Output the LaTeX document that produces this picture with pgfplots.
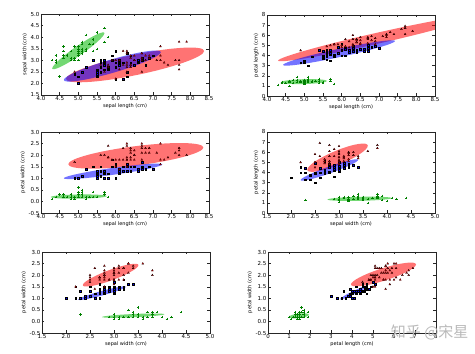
\documentclass[border=0pt]{standalone}
\usepackage{fontspec}
\setmainfont{DejaVu Sans}
\newfontfamily\cjk{Noto Sans CJK SC}
\usepackage{pgfplots}
\usepackage{pgfplotstable}
\usetikzlibrary{calc}
\pgfplotsset{compat=1.18}

\pgfplotstableread{
sl sw pl pw
5.1 3.5 1.4 0.2
4.9 3.0 1.4 0.2
4.7 3.2 1.3 0.2
4.6 3.1 1.5 0.2
5.0 3.6 1.4 0.2
5.4 3.9 1.7 0.4
4.6 3.4 1.4 0.3
5.0 3.4 1.5 0.2
4.4 2.9 1.4 0.2
4.9 3.1 1.5 0.1
5.4 3.7 1.5 0.2
4.8 3.4 1.6 0.2
4.8 3.0 1.4 0.1
4.3 3.0 1.1 0.1
5.8 4.0 1.2 0.2
5.7 4.4 1.5 0.4
5.4 3.9 1.3 0.4
5.1 3.5 1.4 0.3
5.7 3.8 1.7 0.3
5.1 3.8 1.5 0.3
5.4 3.4 1.7 0.2
5.1 3.7 1.5 0.4
4.6 3.6 1.0 0.2
5.1 3.3 1.7 0.5
4.8 3.4 1.9 0.2
5.0 3.0 1.6 0.2
5.0 3.4 1.6 0.4
5.2 3.5 1.5 0.2
5.2 3.4 1.4 0.2
4.7 3.2 1.6 0.2
4.8 3.1 1.6 0.2
5.4 3.4 1.5 0.4
5.2 4.1 1.5 0.1
5.5 4.2 1.4 0.2
4.9 3.1 1.5 0.2
5.0 3.2 1.2 0.2
5.5 3.5 1.3 0.2
4.9 3.6 1.4 0.1
4.4 3.0 1.3 0.2
5.1 3.4 1.5 0.2
5.0 3.5 1.3 0.3
4.5 2.3 1.3 0.3
4.4 3.2 1.3 0.2
5.0 3.5 1.6 0.6
5.1 3.8 1.9 0.4
4.8 3.0 1.4 0.3
5.1 3.8 1.6 0.2
4.6 3.2 1.4 0.2
5.3 3.7 1.5 0.2
5.0 3.3 1.4 0.2
}\setosa

\pgfplotstableread{
sl sw pl pw
7.0 3.2 4.7 1.4
6.4 3.2 4.5 1.5
6.9 3.1 4.9 1.5
5.5 2.3 4.0 1.3
6.5 2.8 4.6 1.5
5.7 2.8 4.5 1.3
6.3 3.3 4.7 1.6
4.9 2.4 3.3 1.0
6.6 2.9 4.6 1.3
5.2 2.7 3.9 1.4
5.0 2.0 3.5 1.0
5.9 3.0 4.2 1.5
6.0 2.2 4.0 1.0
6.1 2.9 4.7 1.4
5.6 2.9 3.6 1.3
6.7 3.1 4.4 1.4
5.6 3.0 4.5 1.5
5.8 2.7 4.1 1.0
6.2 2.2 4.5 1.5
5.6 2.5 3.9 1.1
5.9 3.2 4.8 1.8
6.1 2.8 4.0 1.3
6.3 2.5 4.9 1.5
6.1 2.8 4.7 1.2
6.4 2.9 4.3 1.3
6.6 3.0 4.4 1.4
6.8 2.8 4.8 1.4
6.7 3.0 5.0 1.7
6.0 2.9 4.5 1.5
5.7 2.6 3.5 1.0
5.5 2.4 3.8 1.1
5.5 2.4 3.7 1.0
5.8 2.7 3.9 1.2
6.0 2.7 5.1 1.6
5.4 3.0 4.5 1.5
6.0 3.4 4.5 1.6
6.7 3.1 4.7 1.5
6.3 2.3 4.4 1.3
5.6 3.0 4.1 1.3
5.5 2.5 4.0 1.3
5.5 2.6 4.4 1.2
6.1 3.0 4.6 1.4
5.8 2.6 4.0 1.2
5.0 2.3 3.3 1.0
5.6 2.7 4.2 1.3
5.7 3.0 4.2 1.2
5.7 2.9 4.2 1.3
6.2 2.9 4.3 1.3
5.1 2.5 3.0 1.1
5.7 2.8 4.1 1.3
}\versicolor

\pgfplotstableread{
sl sw pl pw
6.3 3.3 6.0 2.5
5.8 2.7 5.1 1.9
7.1 3.0 5.9 2.1
6.3 2.9 5.6 1.8
6.5 3.0 5.8 2.2
7.6 3.0 6.6 2.1
4.9 2.5 4.5 1.7
7.3 2.9 6.3 1.8
6.7 2.5 5.8 1.8
7.2 3.6 6.1 2.5
6.5 3.2 5.1 2.0
6.4 2.7 5.3 1.9
6.8 3.0 5.5 2.1
5.7 2.5 5.0 2.0
5.8 2.8 5.1 2.4
6.4 3.2 5.3 2.3
6.5 3.0 5.5 1.8
7.7 3.8 6.7 2.2
7.7 2.6 6.9 2.3
6.0 2.2 5.0 1.5
6.9 3.2 5.7 2.3
5.6 2.8 4.9 2.0
7.7 2.8 6.7 2.0
6.3 2.7 4.9 1.8
6.7 3.3 5.7 2.1
7.2 3.2 6.0 1.8
6.2 2.8 4.8 1.8
6.1 3.0 4.9 1.8
6.4 2.8 5.6 2.1
7.2 3.0 5.8 1.6
7.4 2.8 6.1 1.9
7.9 3.8 6.4 2.0
6.4 2.8 5.6 2.2
6.3 2.8 5.1 1.5
6.1 2.6 5.6 1.4
7.7 3.0 6.1 2.3
6.3 3.4 5.6 2.4
6.4 3.1 5.5 1.8
6.0 3.0 4.8 1.8
6.9 3.1 5.4 2.1
6.7 3.1 5.6 2.4
6.9 3.1 5.1 2.3
5.8 2.7 5.1 1.9
6.8 3.2 5.9 2.3
6.7 3.3 5.7 2.5
6.7 3.0 5.2 2.3
6.3 2.5 5.0 1.9
6.5 3.0 5.2 2.0
6.2 3.4 5.4 2.3
5.9 3.0 5.1 1.8
}\virginica

\definecolor{mplgreen}{rgb}{0,0.5,0}
\definecolor{ellgreen}{rgb}{0,0.72,0}

% colour, centre x, centre y, half-diameter vector (dx,dy), vertical half-thickness
% (conjugate semi-diameters, drawn as four Bezier arcs in canvas space)
\newcommand{\ellip}[6]{%
  \fill[#1, opacity=0.55] let \p1=(axis cs:#2,#3), \p2=(axis direction cs:#4,#5),
      \p3=(axis direction cs:0,#6) in
    ({\x1+\x2},{\y1+\y2})
    .. controls ({\x1+\x2+0.5523*\x3},{\y1+\y2+0.5523*\y3}) and ({\x1+\x3+0.5523*\x2},{\y1+\y3+0.5523*\y2}) .. ({\x1+\x3},{\y1+\y3})
    .. controls ({\x1+\x3-0.5523*\x2},{\y1+\y3-0.5523*\y2}) and ({\x1-\x2+0.5523*\x3},{\y1-\y2+0.5523*\y3}) .. ({\x1-\x2},{\y1-\y2})
    .. controls ({\x1-\x2-0.5523*\x3},{\y1-\y2-0.5523*\y3}) and ({\x1-\x3-0.5523*\x2},{\y1-\y3-0.5523*\y2}) .. ({\x1-\x3},{\y1-\y3})
    .. controls ({\x1-\x3+0.5523*\x2},{\y1-\y3+0.5523*\y2}) and ({\x1+\x2-0.5523*\x3},{\y1+\y2-0.5523*\y3}) .. cycle;}

\pgfplotsset{
  panel/.style={
    scale only axis, width=168pt, height=81pt, anchor=south west,
    tick align=inside, major tick length=2.5pt,
    axis line style={black!85}, every tick/.style={black!85, line width=0.4pt},
    ticklabel style={font=\fontsize{5.5}{6}\selectfont, inner sep=1.5pt},
    label style={font=\fontsize{5}{6}\selectfont},
    /pgf/number format/assume math mode=true,
    xlabel style={yshift=2pt}, ylabel style={yshift=-2pt},
  },
  halfx/.style={xticklabel style={/pgf/number format/.cd, fixed, fixed zerofill, precision=1}},
  halfy/.style={yticklabel style={/pgf/number format/.cd, fixed, fixed zerofill, precision=1}},
  seto/.style={only marks, mark=+, mark size=1.2pt, color=mplgreen, line width=0.35pt},
  vers/.style={only marks, mark=square*, mark size=0.85pt, mark options={fill=blue, draw=black, line width=0.25pt}},
  virg/.style={only marks, mark=triangle*, mark size=1.15pt, mark options={fill=red, draw=black, line width=0.25pt}},
}

\begin{document}
\begin{tikzpicture}[x=1pt,y=1pt]
\useasboundingbox (0,0) rectangle (475,354);

% Panel 1
\begin{axis}[panel, halfx, halfy, at={(41pt,259pt)},
  xmin=4, xmax=8.5, ymin=1.5, ymax=5,
  xtick={4,4.5,5,5.5,6,6.5,7,7.5,8,8.5}, ytick={1.5,2,2.5,3,3.5,4,4.5,5},
  xlabel={sepal length (cm)}, ylabel={sepal width (cm)}]
  \ellip{red}{6.52}{2.80}{1.85}{0.6}{0.45}
  \ellip{blue}{5.91}{2.75}{1.30}{0.6}{0.3}
  \ellip{ellgreen}{5.0}{3.41}{0.70}{0.76}{0.24}
  \addplot[seto] table[x=sl,y=sw]{\setosa};
  \addplot[vers] table[x=sl,y=sw]{\versicolor};
  \addplot[virg] table[x=sl,y=sw]{\virginica};
\end{axis}

% Panel 2
\begin{axis}[panel, halfx, at={(267pt,258pt)},
  xmin=4, xmax=8.5, ymin=0, ymax=8,
  xtick={4,4.5,5,5.5,6,6.5,7,7.5,8,8.5}, ytick={0,1,...,8},
  xlabel={sepal length (cm)}, ylabel={petal length (cm)}]
  \ellip{red}{6.95}{5.7}{2.65}{2.2}{0.55}
  \ellip{blue}{5.93}{4.25}{1.5}{1.18}{0.42}
  \ellip{ellgreen}{4.99}{1.42}{0.62}{0.06}{0.24}
  \addplot[seto] table[x=sl,y=pl]{\setosa};
  \addplot[vers] table[x=sl,y=pl]{\versicolor};
  \addplot[virg] table[x=sl,y=pl]{\virginica};
\end{axis}

% Panel 3
\begin{axis}[panel, halfx, halfy, at={(41pt,141pt)},
  xmin=4, xmax=8.5, ymin=-0.5, ymax=3,
  xtick={4,4.5,5,5.5,6,6.5,7,7.5,8,8.5}, ytick={-0.5,0,0.5,1,1.5,2,2.5,3},
  xlabel={sepal length (cm)}, ylabel={petal width (cm)}]
  \ellip{red}{6.54}{1.97}{1.81}{0.36}{0.42}
  \ellip{blue}{5.93}{1.30}{1.32}{0.30}{0.15}
  \ellip{ellgreen}{5.01}{0.21}{0.75}{0.02}{0.09}
  \addplot[seto] table[x=sl,y=pw]{\setosa};
  \addplot[vers] table[x=sl,y=pw]{\versicolor};
  \addplot[virg] table[x=sl,y=pw]{\virginica};
\end{axis}

% Panel 4
\begin{axis}[panel, halfx, at={(267pt,141pt)},
  xmin=1.5, xmax=5, ymin=0, ymax=8,
  xtick={1.5,2,2.5,3,3.5,4,4.5,5}, ytick={0,1,...,8},
  xlabel={sepal width (cm)}, ylabel={petal length (cm)}]
  \ellip{red}{2.97}{5.46}{0.63}{1.18}{0.75}
  \ellip{blue}{2.80}{4.25}{0.60}{1.0}{0.35}
  \ellip{ellgreen}{3.43}{1.40}{0.67}{0.07}{0.2}
  \addplot[seto] table[x=sw,y=pl]{\setosa};
  \addplot[vers] table[x=sw,y=pl]{\versicolor};
  \addplot[virg] table[x=sw,y=pl]{\virginica};
\end{axis}

% Panel 5
\begin{axis}[panel, halfx, halfy, at={(42pt,21pt)},
  xmin=1.5, xmax=5, ymin=-0.5, ymax=3,
  xtick={1.5,2,2.5,3,3.5,4,4.5,5}, ytick={-0.5,0,0.5,1,1.5,2,2.5,3},
  xlabel={sepal width (cm)}, ylabel={petal width (cm)}]
  \ellip{red}{2.93}{2.0}{0.58}{0.43}{0.24}
  \ellip{blue}{2.75}{1.22}{0.5}{0.28}{0.1}
  \ellip{ellgreen}{3.40}{0.25}{0.65}{0.06}{0.07}
  \addplot[seto] table[x=sw,y=pw]{\setosa};
  \addplot[vers] table[x=sw,y=pw]{\versicolor};
  \addplot[virg] table[x=sw,y=pw]{\virginica};
\end{axis}

% Panel 6
\begin{axis}[panel, halfy, at={(268pt,21pt)},
  xmin=0, xmax=8, ymin=-0.5, ymax=3,
  xtick={0,1,...,8}, ytick={-0.5,0,0.5,1,1.5,2,2.5,3},
  xlabel={petal length (cm)}, ylabel={petal width (cm)}]
  \ellip{red}{5.5}{2.03}{1.55}{0.43}{0.28}
  \ellip{blue}{4.1}{1.25}{0.67}{0.29}{0.08}
  \ellip{ellgreen}{1.47}{0.24}{0.48}{0.05}{0.1}
  \addplot[seto] table[x=pl,y=pw]{\setosa};
  \addplot[vers] table[x=pl,y=pw]{\versicolor};
  \addplot[virg] table[x=pl,y=pw]{\virginica};
\end{axis}

\node[font=\cjk\fontsize{15}{15}\selectfont, text=gray!55, anchor=east] at (472,22) {知乎 @宋星};
\end{tikzpicture}
\end{document}
